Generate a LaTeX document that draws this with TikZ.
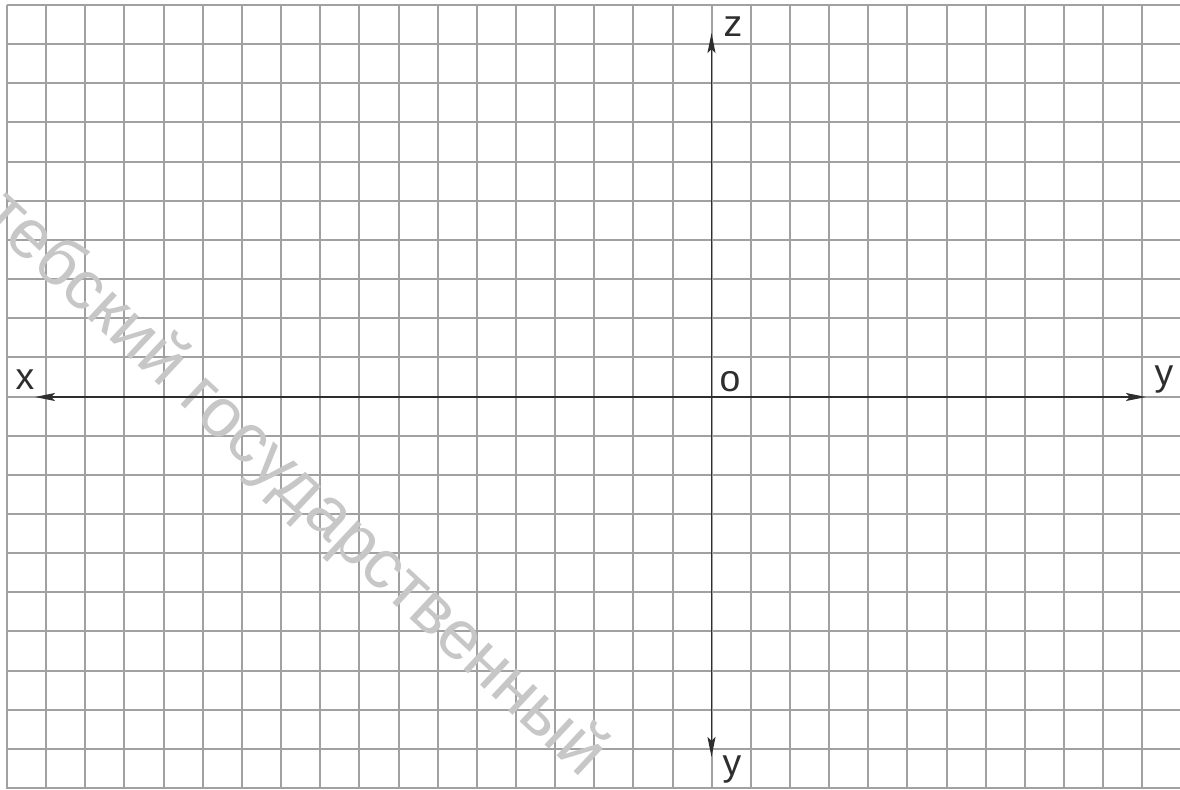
\documentclass[tikz,border=0pt]{standalone}
\usepackage{fontspec}
\setmainfont{Liberation Sans}
\usetikzlibrary{arrows.meta}
\begin{document}
\begin{tikzpicture}[x=0.75pt,y=-0.75pt,
  gridline/.style={draw=black!37,line width=1.5pt},
  axis/.style={draw=black!82,line width=1.1pt,-{Stealth[length=15pt,width=6pt,inset=3pt]}},
  lbl/.style={font=\fontsize{28}{30}\selectfont,text=black!82,inner sep=0pt,anchor=base},
  wmark/.style={font=\fontsize{52}{54}\selectfont,text=black!22,inner sep=0pt,anchor=base west}]
\useasboundingbox (0,0) rectangle (1180,789);
\clip (0,0) rectangle (1180,789);
\fill[white] (0,0) rectangle (1180,789);
\foreach \i in {0,...,29} \draw[gridline] ({7+39.15*\i},5) -- ({7+39.15*\i},789);
\foreach \j in {0,...,20} \draw[gridline] (7,{5+39.15*\j}) -- (1180,{5+39.15*\j});
\node[wmark,rotate=-43] (wm) at (-20,218) {тебский государственный};
\coordinate (O) at (711.5,397);
\coordinate (xe) at (35,397);
\coordinate (ye) at (1146,397);
\coordinate (ze) at (711.5,33);
\coordinate (yb) at (711.5,757);
\draw[axis] (O) -- (xe);
\draw[axis] (O) -- (ye);
\draw[axis] (O) -- (ze);
\draw[axis] (O) -- (yb);
\node[lbl] (lx) at (25,389) {x};
\node[lbl] (lz) at (733,36) {z};
\node[lbl] (lo) at (730,391) {o};
\node[lbl] (lyr) at (1164,385) {y};
\node[lbl] (lyb) at (732,775) {y};
\end{tikzpicture}
\end{document}
